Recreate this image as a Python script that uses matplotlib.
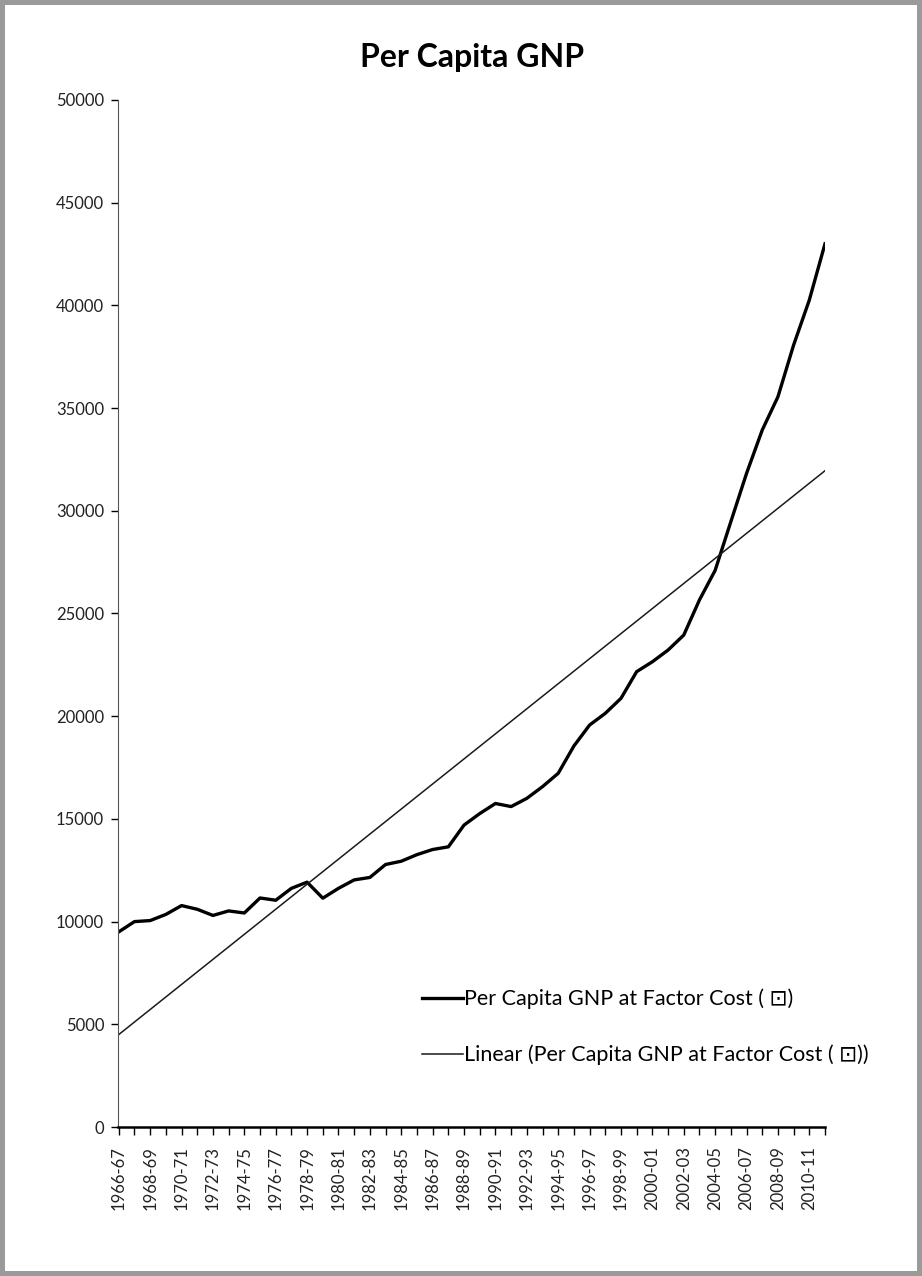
import numpy as np
import matplotlib
matplotlib.use("Agg")
import matplotlib.pyplot as plt

plt.rcParams['font.family'] = ['Lato', 'DejaVu Sans']

# financial years, one per point
years = ['1966-67', '1967-68', '1968-69', '1969-70', '1970-71', '1971-72',
         '1972-73', '1973-74', '1974-75', '1975-76', '1976-77', '1977-78',
         '1978-79', '1979-80', '1980-81', '1981-82', '1982-83', '1983-84',
         '1984-85', '1985-86', '1986-87', '1987-88', '1988-89', '1989-90',
         '1990-91', '1991-92', '1992-93', '1993-94', '1994-95', '1995-96',
         '1996-97', '1997-98', '1998-99', '1999-00', '2000-01', '2001-02',
         '2002-03', '2003-04', '2004-05', '2005-06', '2006-07', '2007-08',
         '2008-09', '2009-10', '2010-11', '2011-12']

# per capita GNP at factor cost
gnp = [9500, 10000, 10050, 10350, 10780, 10600, 10300, 10520, 10420, 11150,
       11040, 11620, 11920, 11140, 11620, 12030, 12150, 12780, 12940, 13260,
       13510, 13640, 14700, 15260, 15750, 15600, 16000, 16570, 17220, 18550,
       19570, 20140, 20870, 22170, 22650, 23220, 23950, 25660, 27100, 29470,
       31820, 33930, 35550, 38070, 40260, 43000]

yticks = [0, 5000, 10000, 15000, 20000, 25000, 30000, 35000, 40000, 45000, 50000]

x = np.arange(len(gnp))
coef = np.polyfit(x, gnp, 1)
trend = np.polyval(coef, x)

fig = plt.figure(figsize=(9.22, 12.76), dpi=100)
fig.patch.set_edgecolor('#9a9a9a')
fig.patch.set_linewidth(6)
ax = fig.add_axes([118 / 922, 1 - 1127 / 1276, 707 / 922, 1027 / 1276])

ax.plot(x, gnp, color='black', lw=2.4, solid_joinstyle='round',
        label='Per Capita GNP at Factor Cost ( \u22a1)')
ax.plot(x, trend, color='#1a1a1a', lw=1.1,
        label='Linear (Per Capita GNP at Factor Cost ( \u22a1))')

ax.set_xlim(-0.05, 45.0)
ax.set_ylim(0, 50000)
ax.set_yticks(yticks)
ax.set_yticklabels([str(v) for v in yticks], fontsize=12, color='#222222')
ax.set_xticks(x)
ax.set_xticklabels([y if i % 2 == 0 else '' for i, y in enumerate(years)],
                   rotation=90, fontsize=12, color='#222222')
ax.tick_params(axis='x', length=6, width=1, pad=8, direction='out')
ax.tick_params(axis='y', length=5, width=1, pad=5, direction='out')

for s in ['top', 'right']:
    ax.spines[s].set_visible(False)
ax.spines['left'].set_color('#555555')
ax.spines['bottom'].set_linewidth(1.8)

ax.legend(loc='upper left', bbox_to_anchor=(413 / 922, 1 - 980 / 1276),
          bbox_transform=fig.transFigure, frameon=False, fontsize=15.5,
          handlelength=1.9, handletextpad=0.05, labelspacing=1.65,
          borderaxespad=0)

fig.text(472 / 922, 1 - 57 / 1276, 'Per Capita GNP', ha='center', va='center',
         fontsize=23, fontweight='bold')

fig.savefig('out.png', dpi=100)
